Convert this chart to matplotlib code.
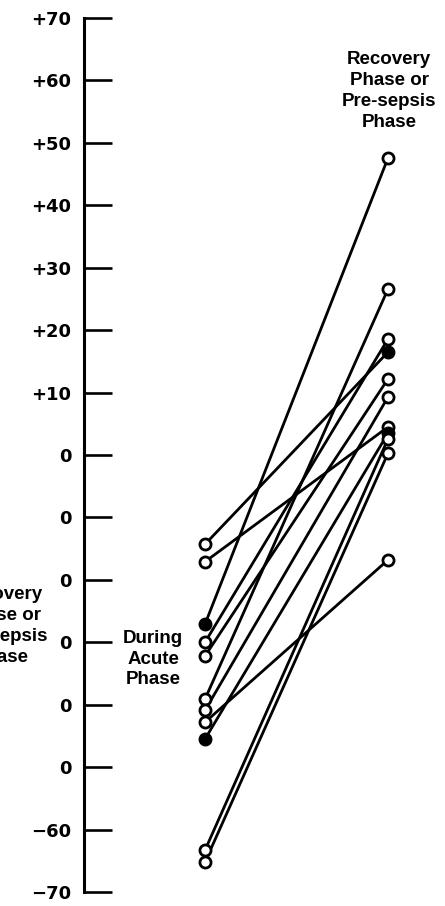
import matplotlib
matplotlib.use("Agg")
import matplotlib.pyplot as plt

# ---- data ----
acute = [-14.3, -17.1, -27.1, -30.0, -32.2, -39.1, -40.9, -42.8, -45.5, -63.3, -65.2]
acute_filled = [False, False, True, False, False, False, False, False, True, False, False]
recovery = [16.5, 4.5, 47.6, 18.6, 12.2, 26.6, 9.3, -16.8, 3.5, 2.6, 0.3]
recovery_filled = [True, False, False, False, False, False, False, False, True, False, False]

ytick_values = [70, 60, 50, 40, 30, 20, 10, 0, -10, -20, -30, -40, -50, -60, -70]
ytick_labels = ["+70", "+60", "+50", "+40", "+30", "+20", "+10", "0",
                "0", "0", "0", "0", "0", "\u221260", "\u221270"]

W, H = 445, 906
fig = plt.figure(figsize=(W / 100, H / 100), dpi=100)

spine_x = 84
top_px, bot_px = 18, 892
ax = fig.add_axes([spine_x / W, (H - bot_px) / H, (W - spine_x) / W, (bot_px - top_px) / H])
ax.patch.set_alpha(0)
ax.set_ylim(-70, 70)
ax.set_xlim(-0.661, 1.311)

for s in ["top", "right", "bottom"]:
    ax.spines[s].set_visible(False)
ax.spines["left"].set_linewidth(2.2)
ax.set_xticks([])
ax.set_yticks(ytick_values)
ax.set_yticklabels(ytick_labels, fontfamily="DejaVu Sans", fontweight="bold", fontsize=13)
ax.tick_params(axis="y", direction="in", length=20, width=1.9, pad=9)

# lines
for a, r in zip(acute, recovery):
    ax.plot([0, 1], [a, r], color="black", lw=2.0, solid_capstyle="round", zorder=2, clip_on=False)

# markers
for x, vals, fills in [(0, acute, acute_filled), (1, recovery, recovery_filled)]:
    for v, f in zip(vals, fills):
        ax.plot([x], [v], marker="o", markersize=8, mew=2.0, mec="black",
                mfc="black" if f else "white", zorder=3, clip_on=False)

lab = dict(fontfamily="Liberation Sans", fontweight="bold", fontsize=13.5,
           ha="center", va="center", multialignment="center", linespacing=1.3)

fig.text(389 / W, 1 - 91 / H, "Recovery\nPhase or\nPre-sepsis\nPhase", **lab)
fig.text(153 / W, 1 - 659 / H, "During\nAcute\nPhase", **lab)
fig.text(1 / W, 1 - 626 / H, "Recovery\nPhase or\nPre-sepsis\nPhase", **lab)

fig.savefig("out.png", dpi=100)
